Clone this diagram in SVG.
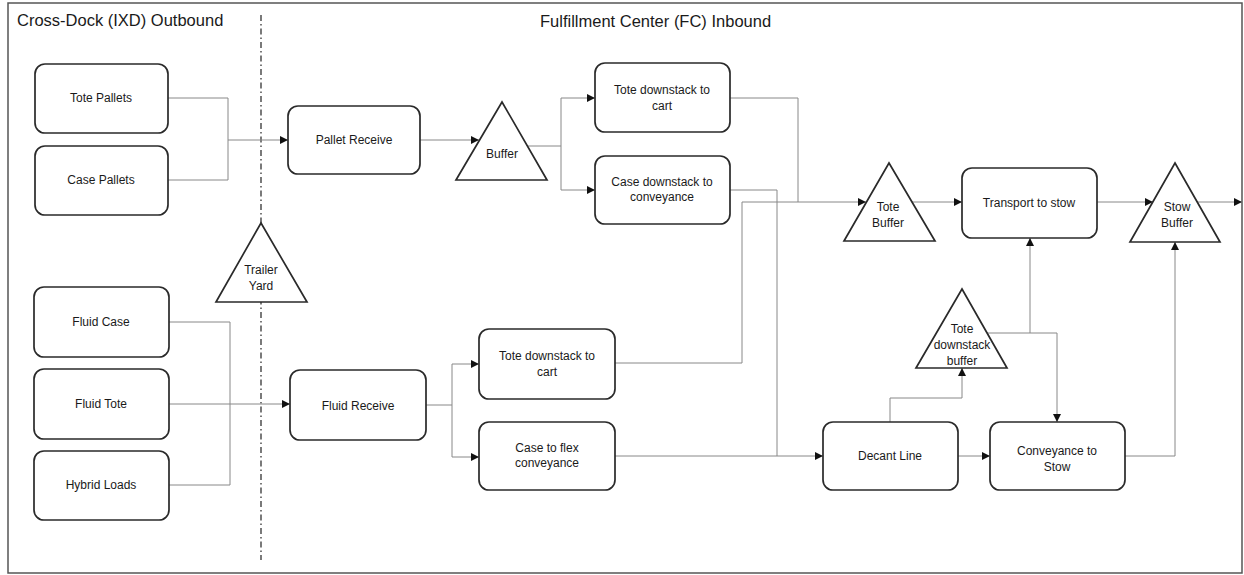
<svg xmlns="http://www.w3.org/2000/svg" width="1244" height="575" viewBox="0 0 1244 575">
<style>
.box{fill:#fff;stroke:#2a2a2a;stroke-width:1.7}
.tri{fill:#fff;stroke:#2a2a2a;stroke-width:1.7}
.lbl{font-family:"Liberation Sans",Arial,sans-serif;font-size:12px;fill:#1a1a1a;text-anchor:middle}
.title{font-family:"Liberation Sans",Arial,sans-serif;font-size:16.5px;fill:#1a1a1a}
.c{fill:none;stroke:#888;stroke-width:1}
.a{marker-end:url(#arr)}
</style>
<defs>
<marker id="arr" markerUnits="userSpaceOnUse" markerWidth="9" markerHeight="8" refX="8" refY="4" orient="auto">
<path d="M0,0 L8,4 L0,8 z" fill="#111"/>
</marker>
</defs>
<rect x="0" y="0" width="1244" height="575" fill="#fff"/>
<rect x="8" y="3" width="1234" height="570" fill="none" stroke="#555" stroke-width="1.5"/>
<text class="title" x="17" y="26">Cross-Dock (IXD) Outbound</text>
<text class="title" x="540" y="27">Fulfillment Center (FC) Inbound</text>
<line x1="261" y1="15" x2="261" y2="560" stroke="#333" stroke-width="1.3" stroke-dasharray="6,3,1.5,3"/>

<g id="connectors">
<path class="c a" d="M168,98 H228 V140 H288"/>
<path class="c" d="M168,180 H228 V140"/>
<path class="c a" d="M420,140 H479"/>
<path class="c a" d="M527,146 H561 V98 H595"/>
<path class="c a" d="M561,146 V190 H595"/>
<path class="c a" d="M730,98 H798 V202 H866"/>
<path class="c a" d="M730,190 H777 V456 H823"/>
<path class="c" d="M615,363 H742 V202 H798"/>
<path class="c" d="M615,456 H777"/>
<path class="c a" d="M911,202 H962"/>
<path class="c a" d="M1097,202 H1153"/>
<path class="c a" d="M1197,202 H1242"/>
<path class="c a" d="M890,422 V398 H962 V368"/>
<path class="c a" d="M987,333 H1030 V238"/>
<path class="c a" d="M1030,333 H1057 V422"/>
<path class="c a" d="M958,456 H990"/>
<path class="c a" d="M1125,456 H1175 V242"/>
<path class="c" d="M169,322 H230 V485 H169"/>
<path class="c a" d="M169,404 H290"/>
<path class="c a" d="M426,405 H452 V364 H479"/>
<path class="c a" d="M452,405 V457 H479"/>
</g>

<g id="tote-pallets"><rect class="box" x="35" y="64" width="133" height="69" rx="10"/><text class="lbl" x="101" y="102">Tote Pallets</text></g>
<g id="case-pallets"><rect class="box" x="35" y="146" width="133" height="69" rx="10"/><text class="lbl" x="101" y="184">Case Pallets</text></g>
<g id="fluid-case"><rect class="box" x="34" y="287" width="135" height="70" rx="10"/><text class="lbl" x="101" y="326">Fluid Case</text></g>
<g id="fluid-tote"><rect class="box" x="34" y="369" width="135" height="70" rx="10"/><text class="lbl" x="101" y="408">Fluid Tote</text></g>
<g id="hybrid-loads"><rect class="box" x="34" y="451" width="135" height="69" rx="10"/><text class="lbl" x="101" y="489">Hybrid Loads</text></g>
<g id="trailer-yard"><polygon class="tri" points="261,223 307,302 216,302"/><text class="lbl" x="261" y="274">Trailer</text><text class="lbl" x="261" y="290">Yard</text></g>
<g id="pallet-receive"><rect class="box" x="288" y="106" width="132" height="68" rx="10"/><text class="lbl" x="354" y="144">Pallet Receive</text></g>
<g id="fluid-receive"><rect class="box" x="290" y="370" width="136" height="70" rx="10"/><text class="lbl" x="358" y="410">Fluid Receive</text></g>
<g id="buffer"><polygon class="tri" points="502,102 547,180 456,180"/><text class="lbl" x="502" y="158">Buffer</text></g>
<g id="tote-downstack-cart-1"><rect class="box" x="595" y="63" width="135" height="69" rx="10"/><text class="lbl" x="662" y="94">Tote downstack to</text><text class="lbl" x="662" y="110">cart</text></g>
<g id="case-downstack-conveyance"><rect class="box" x="595" y="156" width="135" height="68" rx="10"/><text class="lbl" x="662" y="186">Case downstack to</text><text class="lbl" x="662" y="201">conveyance</text></g>
<g id="tote-downstack-cart-2"><rect class="box" x="479" y="329" width="136" height="70" rx="10"/><text class="lbl" x="547" y="360">Tote downstack to</text><text class="lbl" x="547" y="376">cart</text></g>
<g id="case-flex-conveyance"><rect class="box" x="479" y="422" width="136" height="68" rx="10"/><text class="lbl" x="547" y="452">Case to flex</text><text class="lbl" x="547" y="467">conveyance</text></g>
<g id="tote-buffer"><polygon class="tri" points="889,163 935,241 844,241"/><text class="lbl" x="888" y="211">Tote</text><text class="lbl" x="888" y="227">Buffer</text></g>
<g id="transport-to-stow"><rect class="box" x="962" y="168" width="135" height="70" rx="10"/><text class="lbl" x="1029" y="207">Transport to stow</text></g>
<g id="stow-buffer"><polygon class="tri" points="1175,163 1220,242 1130,242"/><text class="lbl" x="1177" y="211">Stow</text><text class="lbl" x="1177" y="227">Buffer</text></g>
<g id="tote-downstack-buffer"><polygon class="tri" points="962,289 1007,368 916,368"/><text class="lbl" x="962" y="333">Tote</text><text class="lbl" x="962" y="349">downstack</text><text class="lbl" x="962" y="365">buffer</text></g>
<g id="decant-line"><rect class="box" x="823" y="422" width="135" height="68" rx="10"/><text class="lbl" x="890" y="460">Decant Line</text></g>
<g id="conveyance-to-stow"><rect class="box" x="990" y="422" width="135" height="68" rx="10"/><text class="lbl" x="1057" y="455">Conveyance to</text><text class="lbl" x="1057" y="471">Stow</text></g>
</svg>
